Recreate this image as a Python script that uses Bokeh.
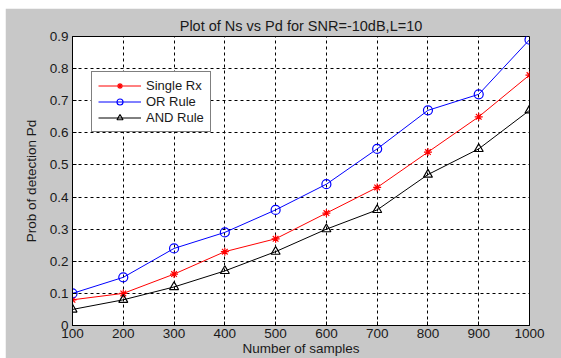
from bokeh.plotting import figure
from bokeh.models import Range1d, FixedTicker, Legend
from bokeh.embed import file_html
from bokeh.resources import INLINE

samples = [100, 200, 300, 400, 500, 600, 700, 800, 900, 1000]
single_rx = [0.08, 0.10, 0.16, 0.23, 0.27, 0.35, 0.43, 0.54, 0.65, 0.78]
or_rule = [0.10, 0.15, 0.24, 0.29, 0.36, 0.44, 0.55, 0.67, 0.72, 0.89]
and_rule = [0.05, 0.08, 0.12, 0.17, 0.23, 0.30, 0.36, 0.47, 0.55, 0.67]
x_ticks = [100, 200, 300, 400, 500, 600, 700, 800, 900, 1000]
y_ticks = [0, 0.1, 0.2, 0.3, 0.4, 0.5, 0.6, 0.7, 0.8, 0.9]

FONT = "Liberation Sans"
BG = "#c8c8c8"
TXT = "#1a1a1a"

p = figure(width=556, height=350, output_backend="svg", toolbar_location=None,
           x_range=Range1d(100, 1000), y_range=Range1d(0, 0.9),
           min_border_left=67, min_border_right=32, min_border_top=28, min_border_bottom=32,
           background_fill_color="white", border_fill_color=BG)
p.outline_line_color = "black"
p.outline_line_width = 1

p.title.text = "Plot of Ns vs Pd for SNR=-10dB,L=10"
p.title.align = "center"
p.title.text_font = FONT
p.title.text_font_size = "14.5px"
p.title.text_font_style = "normal"
p.title.text_color = TXT
p.title.offset = 0
p.title.standoff = 6

for ax in (p.xaxis[0], p.yaxis[0]):
    ax.major_label_text_font = FONT
    ax.major_label_text_font_size = "13.5px"
    ax.major_label_text_color = TXT
    ax.axis_label_text_font = FONT
    ax.axis_label_text_font_size = "13.5px"
    ax.axis_label_text_font_style = "normal"
    ax.axis_label_text_color = TXT
    ax.major_tick_in = 4
    ax.major_tick_out = 0
    ax.minor_tick_in = 0
    ax.minor_tick_out = 0
    ax.axis_line_color = "black"
    ax.major_tick_line_color = "black"

p.xaxis[0].ticker = FixedTicker(ticks=x_ticks)
p.yaxis[0].ticker = FixedTicker(ticks=y_ticks)
p.yaxis[0].major_label_overrides = {0: "0"}
p.xaxis[0].axis_label = "Number of samples"
p.yaxis[0].axis_label = "Prob of detection Pd"
p.xaxis[0].major_label_standoff = 3
p.yaxis[0].major_label_standoff = 4
p.xaxis[0].axis_label_standoff = 0
p.yaxis[0].axis_label_standoff = 8

p.xgrid.ticker = FixedTicker(ticks=x_ticks)
p.ygrid.ticker = FixedTicker(ticks=y_ticks)
for g in (p.xgrid, p.ygrid):
    g.grid_line_color = "black"
    g.grid_line_dash = "3 3"
    g.grid_line_width = 1

r1 = p.line(samples, single_rx, line_color="#ff0000", line_width=1)
m1 = p.scatter(samples, single_rx, marker="asterisk", size=8, line_color="#ff0000", line_width=1.2)
r2 = p.line(samples, or_rule, line_color="#0000ff", line_width=1)
m2 = p.scatter(samples, or_rule, marker="circle", size=9, line_color="#0000ff", fill_color=None, line_width=1.2)
r3 = p.line(samples, and_rule, line_color="#000000", line_width=1)
m3 = p.scatter(samples, and_rule, marker="triangle", size=9, line_color="#000000", fill_color=None, line_width=1.2)

legend = Legend(items=[("Single Rx", [r1, m1]), ("OR Rule", [r2, m2]), ("AND Rule", [r3, m3])],
                location=(19, 193))
legend.label_text_font = FONT
legend.label_text_font_size = "13px"
legend.label_text_color = TXT
legend.border_line_color = "black"
legend.border_line_width = 1
legend.background_fill_color = "white"
legend.background_fill_alpha = 1
legend.glyph_width = 43
legend.glyph_height = 15
legend.label_height = 15
legend.spacing = 1
legend.padding = 6
legend.margin = 0
legend.label_standoff = 5
p.add_layout(legend, "center")

html = file_html(p, INLINE)
html = html.replace("</head>", "<style>html {margin:0 !important;padding:0 !important;overflow:hidden !important;background:white;} body {margin:0 !important;padding:8px 0 0 5px !important;overflow:hidden !important;}</style></head>", 1)
open("out.html", "w").write(html)
